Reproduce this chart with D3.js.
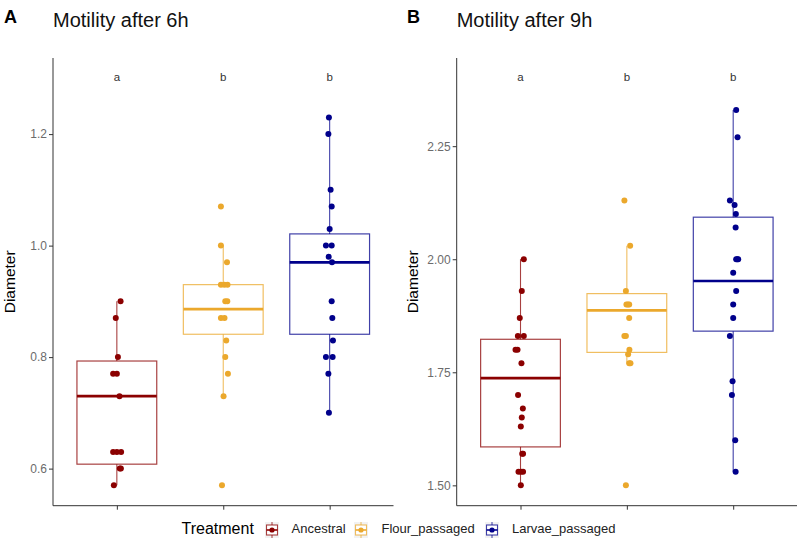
<!DOCTYPE html>
<html>
<head>
<meta charset="utf-8">
<script src="https://cdn.jsdelivr.net/npm/d3@7"></script>
<style>
  html, body { margin: 0; padding: 0; background: #fff; }
  svg { display: block; font-family: "Liberation Sans", Arial, sans-serif; }
</style>
</head>
<body>
<svg id="chart" width="800" height="543"></svg>
<script>
// ---------- data ----------
const categories = ["Ancestral", "Flour_passaged", "Larvae_passaged"];
const colors = ["#8B0000", "#EBA82C", "#00008B"];
const letters = ["a", "b", "b"];

// Panel A: motility after 6h
const a6Ancestral = [0.90, 0.87, 0.80, 0.77, 0.77, 0.73, 0.63, 0.63, 0.63, 0.60, 0.60, 0.57];
const a6AncestralJitter = [0.035, -0.01, 0.01, -0.035, 0.0, 0.025, -0.035, 0.0, 0.04, 0.028, 0.038, -0.028];
const a6Flour = [1.07, 1.00, 0.97, 0.93, 0.93, 0.93, 0.90, 0.90, 0.87, 0.87, 0.83, 0.80, 0.77, 0.73, 0.57];
const a6FlourJitter = [-0.022, -0.022, 0.035, -0.022, 0.01, 0.04, 0.019, 0.038, -0.022, 0.012, 0.028, 0.019, 0.044, 0.003, -0.012];
const a6Larvae = [1.23, 1.20, 1.10, 1.07, 1.03, 1.00, 1.00, 0.98, 0.97, 0.90, 0.87, 0.83, 0.80, 0.80, 0.77, 0.70];
const a6LarvaeJitter = [-0.007, -0.012, 0.009, 0.019, 0.0, -0.035, 0.019, -0.009, 0.022, 0.019, 0.025, 0.031, -0.035, 0.028, -0.012, -0.007];
// box stats [lower whisker, q1, median, q3, upper whisker]
const a6Boxes = [
  [0.57, 0.608, 0.73, 0.793, 0.90],
  [0.73, 0.841, 0.886, 0.93, 1.00],
  [0.70, 0.841, 0.97, 1.021, 1.23]
];
const a6Ticks = [0.6, 0.8, 1.0, 1.2];
const a6Domain = [0.5335, 1.3365];
const a6LetterY = 1.30;

// Panel B: motility after 9h
const b9Ancestral = [2.00, 1.93, 1.87, 1.83, 1.83, 1.80, 1.80, 1.77, 1.70, 1.67, 1.65, 1.63, 1.57, 1.57, 1.53, 1.53, 1.53, 1.50];
const b9AncestralJitter = [0.031, 0.012, -0.007, -0.025, 0.031, -0.047, -0.028, 0.009, -0.023, 0.022, 0.012, 0.003, 0.016, 0.024, -0.019, 0.005, 0.024, 0.003];
const b9Flour = [2.13, 2.03, 1.93, 1.90, 1.90, 1.90, 1.87, 1.83, 1.83, 1.80, 1.79, 1.77, 1.77, 1.50];
const b9FlourJitter = [-0.023, 0.031, -0.009, -0.004, 0.022, 0.01, 0.022, -0.023, -0.009, 0.024, 0.012, 0.022, 0.034, -0.009];
const b9Larvae = [2.33, 2.27, 2.13, 2.12, 2.10, 2.07, 2.00, 2.00, 2.00, 1.97, 1.93, 1.90, 1.87, 1.83, 1.73, 1.70, 1.60, 1.53];
const b9LarvaeJitter = [0.028, 0.041, -0.031, 0.013, 0.025, 0.023, 0.028, 0.038, 0.047, 0.0, 0.028, 0.0, 0.0, -0.031, -0.006, -0.012, 0.019, 0.023];
const b9Boxes = [
  [1.50, 1.585, 1.737, 1.823, 2.00],
  [1.77, 1.794, 1.887, 1.924, 2.03],
  [1.53, 1.841, 1.952, 2.093, 2.33]
];
const b9Ticks = [1.50, 1.75, 2.00, 2.25];
const b9Domain = [1.455, 2.445];
const b9LetterY = 2.40;

// ---------- drawing ----------
const svg = d3.select("#chart");
const FONT = '"Liberation Sans", Arial, sans-serif';

function panel(cfg) {
  const g = svg.append("g");
  const x = d3.scalePoint().domain(categories).range([cfg.left, cfg.right]).padding(0.6);
  const y = d3.scaleLinear().domain(cfg.domain).range([cfg.bottom, cfg.top]);
  const step = x.step();
  const bw = step * 0.75;

  // panel tag and title
  g.append("text").attr("x", cfg.tagX).attr("y", 23).text(cfg.tag)
    .attr("font-size", 18).attr("font-weight", "bold").attr("fill", "#000");
  g.append("text").attr("x", cfg.left).attr("y", 27).text(cfg.title)
    .attr("font-size", 20).attr("fill", "#111");

  // boxes
  cfg.boxes.forEach((b, i) => {
    const cx = x(categories[i]);
    const col = colors[i];
    const bg = g.append("g");
    // whiskers
    bg.append("line").attr("x1", cx).attr("x2", cx).attr("y1", y(b[4])).attr("y2", y(b[3]))
      .attr("stroke", col).attr("stroke-width", 1.1).attr("stroke-opacity", 0.75);
    bg.append("line").attr("x1", cx).attr("x2", cx).attr("y1", y(b[1])).attr("y2", y(b[0]))
      .attr("stroke", col).attr("stroke-width", 1.1).attr("stroke-opacity", 0.75);
    bg.append("rect").attr("x", cx - bw / 2).attr("width", bw)
      .attr("y", y(b[3])).attr("height", y(b[1]) - y(b[3]))
      .attr("fill", "none").attr("stroke", col).attr("stroke-width", 1.2).attr("stroke-opacity", 0.75);
    bg.append("line").attr("x1", cx - bw / 2).attr("x2", cx + bw / 2)
      .attr("y1", y(b[2])).attr("y2", y(b[2]))
      .attr("stroke", col).attr("stroke-width", 2.6);
  });

  // points
  cfg.series.forEach((s, i) => {
    const cx = x(categories[i]);
    g.append("g").selectAll("circle").data(s.values).join("circle")
      .attr("cx", (d, j) => cx + s.jitter[j] * step)
      .attr("cy", d => y(d))
      .attr("r", 3)
      .attr("fill", colors[i]);
  });

  // significance letters
  g.append("g").selectAll("text").data(letters).join("text")
    .attr("x", (d, i) => x(categories[i]))
    .attr("y", y(cfg.letterY))
    .attr("text-anchor", "middle").attr("dominant-baseline", "middle")
    .attr("font-size", 11.5).attr("fill", "#333")
    .text(d => d);

  // axes
  const yAxis = g.append("g").attr("transform", `translate(${cfg.left},0)`)
    .call(d3.axisLeft(y).tickValues(cfg.ticks).tickFormat(d3.format(cfg.fmt)).tickSize(4).tickSizeOuter(0));
  yAxis.select(".domain").remove();
  yAxis.append("line").attr("x1", 0).attr("x2", 0).attr("y1", cfg.top).attr("y2", cfg.bottom)
    .attr("stroke", "#333").attr("stroke-width", 1);
  yAxis.selectAll(".tick line").attr("stroke", "#333");
  yAxis.selectAll(".tick text").attr("font-size", 12).attr("fill", "#6b6b6b")
    .attr("font-family", FONT).attr("x", -6);

  const xAxis = g.append("g").attr("transform", `translate(0,${cfg.bottom})`)
    .call(d3.axisBottom(x).tickSize(4).tickFormat(""));
  xAxis.select(".domain").remove();
  xAxis.append("line").attr("x1", cfg.left).attr("x2", cfg.right).attr("y1", 0).attr("y2", 0)
    .attr("stroke", "#333").attr("stroke-width", 1);
  xAxis.selectAll(".tick line").attr("stroke", "#333");

  // y title
  g.append("text")
    .attr("transform", `translate(${cfg.ytitleX},${(cfg.top + cfg.bottom) / 2}) rotate(-90)`)
    .attr("text-anchor", "middle").attr("dominant-baseline", "middle")
    .attr("font-size", 15.5).attr("fill", "#000").text("Diameter");
}

panel({
  tag: "A", tagX: 4, title: "Motility after 6h",
  left: 53, right: 393.5, top: 58, bottom: 505.7,
  domain: a6Domain, ticks: a6Ticks, fmt: ".1f", letterY: a6LetterY,
  ytitleX: 11,
  boxes: a6Boxes,
  series: [
    { values: a6Ancestral, jitter: a6AncestralJitter },
    { values: a6Flour, jitter: a6FlourJitter },
    { values: a6Larvae, jitter: a6LarvaeJitter }
  ]
});

panel({
  tag: "B", tagX: 407, title: "Motility after 9h",
  left: 456.7, right: 797, top: 58, bottom: 505.7,
  domain: b9Domain, ticks: b9Ticks, fmt: ".2f", letterY: b9LetterY,
  ytitleX: 414,
  boxes: b9Boxes,
  series: [
    { values: b9Ancestral, jitter: b9AncestralJitter },
    { values: b9Flour, jitter: b9FlourJitter },
    { values: b9Larvae, jitter: b9LarvaeJitter }
  ]
});

// legend
const lg = svg.append("g").attr("transform", "translate(0,530)");
lg.append("text").attr("x", 181.5).attr("y", 0).attr("dominant-baseline", "middle")
  .attr("font-size", 16).attr("fill", "#000").text("Treatment");
const keyX = [266, 355, 486];
const labelX = [291.5, 381.5, 512];
categories.forEach((c, i) => {
  const k = lg.append("g").attr("transform", `translate(${keyX[i]},0)`);
  k.append("rect").attr("x", -1).attr("y", -8).attr("width", 14).attr("height", 16).attr("fill", "#f2f2f2");
  k.append("line").attr("x1", 6).attr("x2", 6).attr("y1", -8).attr("y2", 8)
    .attr("stroke", colors[i]).attr("stroke-width", 1).attr("stroke-opacity", 0.75);
  k.append("rect").attr("x", 0.5).attr("y", -5).attr("width", 11).attr("height", 10)
    .attr("fill", "#fff").attr("stroke", colors[i]).attr("stroke-width", 1.1).attr("stroke-opacity", 0.75);
  k.append("line").attr("x1", 0.5).attr("x2", 11.5).attr("y1", 0).attr("y2", 0)
    .attr("stroke", colors[i]).attr("stroke-width", 1.6);
  k.append("circle").attr("cx", 6).attr("cy", 0).attr("r", 2.6).attr("fill", colors[i]);
  lg.append("text").attr("x", labelX[i]).attr("y", 0).attr("dominant-baseline", "middle")
    .attr("font-size", 13).attr("fill", "#222").text(c);
});
</script>
</body>
</html>
